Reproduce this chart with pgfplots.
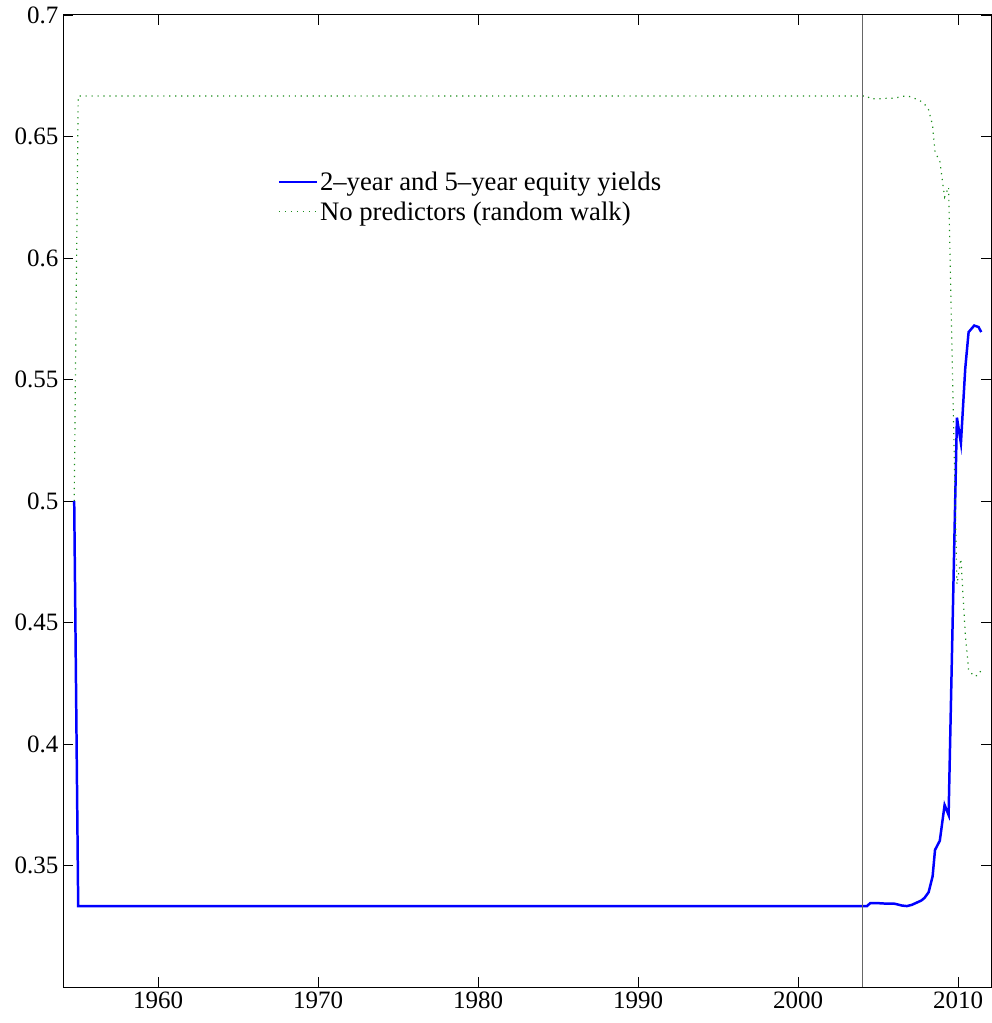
\documentclass[border=0pt]{standalone}
\usepackage{pgfplots}
\pgfplotsset{compat=1.18}
\usetikzlibrary{calc}
\usepackage{fontspec}
\setmainfont{Liberation Serif}
\definecolor{mgreen}{rgb}{0.1,0.55,0.1}
\begin{document}
\begin{tikzpicture}
\begin{axis}[
  scale only axis,
  width=928bp, height=972bp,
  xmin=1954.05, xmax=2012.05,
  ymin=0.3, ymax=0.7,
  xtick={1960,1970,1980,1990,2000,2010},
  ytick={0.35,0.4,0.45,0.5,0.55,0.6,0.65,0.7},
  xticklabel={\pgfmathprintnumber[assume math mode=true,1000 sep={}]{\tick}},
  yticklabel={\pgfmathprintnumber[assume math mode=true]{\tick}},
  tick pos=both, tick align=inside,
  major tick length=10bp,
  every tick/.style={black, line width=0.9pt},
  axis line style={line width=1pt},
  tick label style={font=\fontsize{25bp}{29bp}\selectfont},
  xticklabel style={yshift=-1pt},
  yticklabel style={xshift=-1pt},
  legend style={at={(rel axis cs:0.229,0.843)}, anchor=north west, draw=none, fill=none,
    font=\fontsize{26.8}{31}\selectfont, row sep=6pt, inner sep=2pt},
  legend cell align=left,
  legend image code/.code={\draw[#1] (0pt,0pt) -- (38pt,0pt);},
  clip=true,
]
\addplot[blue, line width=2.5pt] coordinates {
(1954.75,0.5) (1955.0,0.3333) (2004.0,0.3333) (2004.3,0.3333) (2004.5,0.3345)
(2005.0,0.3345) (2005.5,0.3343) (2006.0,0.3343) (2006.5,0.3335) (2006.8,0.3333)
(2007.1,0.3338) (2007.4,0.3347) (2007.7,0.3356) (2007.9,0.3367) (2008.15,0.339)
(2008.4,0.3455) (2008.55,0.3564) (2008.85,0.3602) (2009.15,0.3749) (2009.4,0.3708)
(2009.92,0.5343) (2010.17,0.5238) (2010.44,0.5545) (2010.65,0.5695) (2011.0,0.5722)
(2011.27,0.5716) (2011.44,0.5695)
};
\addlegendentry{2\textendash year and 5\textendash year equity yields}
\addplot[mgreen, line width=1.2pt, dash pattern=on 1.2pt off 4.8pt] coordinates {
(1954.75,0.5) (1955.0,0.6667) (2004.0,0.6667) (2004.3,0.6667) (2004.5,0.6655)
(2005.0,0.6655) (2005.5,0.6657) (2006.0,0.6657) (2006.5,0.6665) (2006.8,0.6667)
(2007.1,0.6662) (2007.4,0.6653) (2007.7,0.6644) (2007.9,0.6633) (2008.15,0.661)
(2008.4,0.6545) (2008.55,0.6436) (2008.85,0.6398) (2009.15,0.6251) (2009.4,0.6292)
(2009.92,0.4657) (2010.17,0.4762) (2010.44,0.4455) (2010.65,0.4305) (2011.0,0.4278)
(2011.27,0.4284) (2011.44,0.4305)
};
\addlegendentry{No predictors (random walk)}
\addplot[black!60, line width=1.1pt, forget plot] coordinates {(2004,0.3) (2004,0.7)};
\end{axis}
\path ($(current axis.south west)+(-63bp,-36bp)$) rectangle ($(current axis.north east)+(1bp,15bp)$);
\end{tikzpicture}
\end{document}
